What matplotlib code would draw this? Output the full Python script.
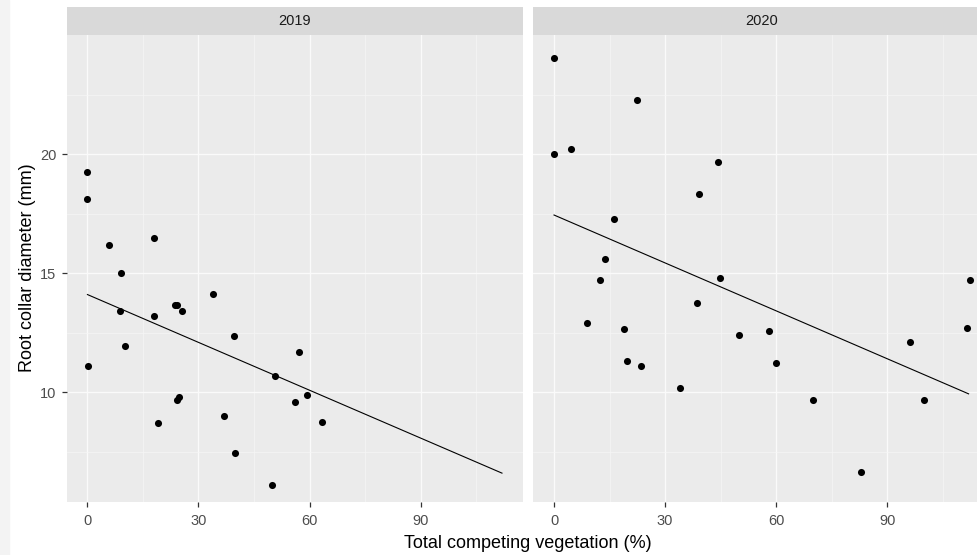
import numpy as np
import matplotlib
matplotlib.use('Agg')
import matplotlib.pyplot as plt
from matplotlib.ticker import MultipleLocator

plt.rcParams['font.family'] = ['Liberation Sans', 'DejaVu Sans']

years = ['2019', '2020']

x19 = [0, 0, 5.7, 18.1, 9.1, 8.9, 18.1, 23.6, 24.1, 25.5, 33.8, 10.1, 0.2, 39.5,
       57.2, 50.8, 24.1, 24.8, 19.2, 36.9, 56.1, 59.2, 63.5, 39.8, 49.8]
y19 = [19.24, 18.1, 16.16, 16.47, 15.01, 13.40, 13.19, 13.67, 13.67, 13.40, 14.13,
       11.93, 11.09, 12.35, 11.68, 10.67, 9.69, 9.79, 8.70, 9.02, 9.58, 9.89, 8.75,
       7.45, 6.09]

x20 = [0, 0, 4.7, 22.5, 44.3, 39.3, 16.1, 13.7, 12.5, 44.9, 112.4, 8.8, 18.8, 19.8,
       23.6, 38.6, 34.0, 50.0, 58.1, 60.1, 70.1, 96.3, 100.0, 111.5, 82.9]
y20 = [24.02, 19.99, 20.2, 22.28, 19.68, 18.31, 17.26, 15.6, 14.71, 14.80, 14.71,
       12.89, 12.66, 11.30, 11.09, 13.75, 10.16, 12.41, 12.56, 11.21, 9.69, 12.09,
       9.69, 12.68, 6.65]

# fitted lines: value at x=0 and at x=112
line_x = [0, 112]
line19 = [14.1, 6.6]
line20 = [17.44, 9.93]

xs = [x19, x20]
ys = [y19, y20]
lines = [line19, line20]

W, H = 978, 555
fig = plt.figure(figsize=(W / 100, H / 100), dpi=100)
fig.patches.append(plt.Rectangle((0, 0), 9 / W, 1, transform=fig.transFigure,
                                 color='#F3F3F3', zorder=0))

panel_w = 456
panel_top = 35
panel_bot = 501.7
lefts = [66.7, 533.3]

for i in range(2):
    ax = fig.add_axes([lefts[i] / W, (H - panel_bot) / H, panel_w / W,
                       (panel_bot - panel_top) / H])
    ax.set_facecolor('#EBEBEB')
    ax.set_xlim(-5.6, 117.6)
    ax.set_ylim(5.4, 25.0)
    ax.xaxis.set_major_locator(MultipleLocator(30))
    ax.xaxis.set_minor_locator(MultipleLocator(15))
    ax.set_yticks([10, 15, 20])
    ax.set_yticks([7.5, 12.5, 17.5, 22.5], minor=True)
    ax.grid(which='major', color='#FAFAFA', lw=1.0)
    ax.grid(which='minor', color='#F6F6F6', lw=0.5)
    ax.set_axisbelow(True)
    for s in ax.spines.values():
        s.set_visible(False)
    ax.tick_params(which='major', color='#333333', length=3.5, width=0.9,
                   labelcolor='#4D4D4D', labelsize=10.5, pad=4)
    ax.tick_params(axis='x', pad=5)
    ax.tick_params(which='minor', length=0)
    if i == 1:
        ax.tick_params(axis='y', which='both', left=False, labelleft=False)
    ax.plot(line_x, lines[i], color='black', lw=0.8, zorder=2)
    ax.scatter(xs[i], ys[i], s=26, color='black', zorder=3, linewidths=0)

    strip = fig.add_axes([lefts[i] / W, (H - panel_top) / H, panel_w / W, 28.3 / H])
    strip.set_facecolor('#D9D9D9')
    strip.set_xticks([])
    strip.set_yticks([])
    for s in strip.spines.values():
        s.set_visible(False)
    strip.text(0.5, 0.5, years[i], ha='center', va='center', fontsize=10.5,
               color='#1A1A1A', transform=strip.transAxes)

fig.text(528 / W, 1 - 543 / H, 'Total competing vegetation (%)', ha='center',
         va='center', fontsize=13, color='black')
fig.text(28 / W, 1 - 268 / H, 'Root collar diameter (mm)', ha='center',
         va='center', rotation=90, fontsize=13, color='black')

fig.savefig('out.png', dpi=100)
